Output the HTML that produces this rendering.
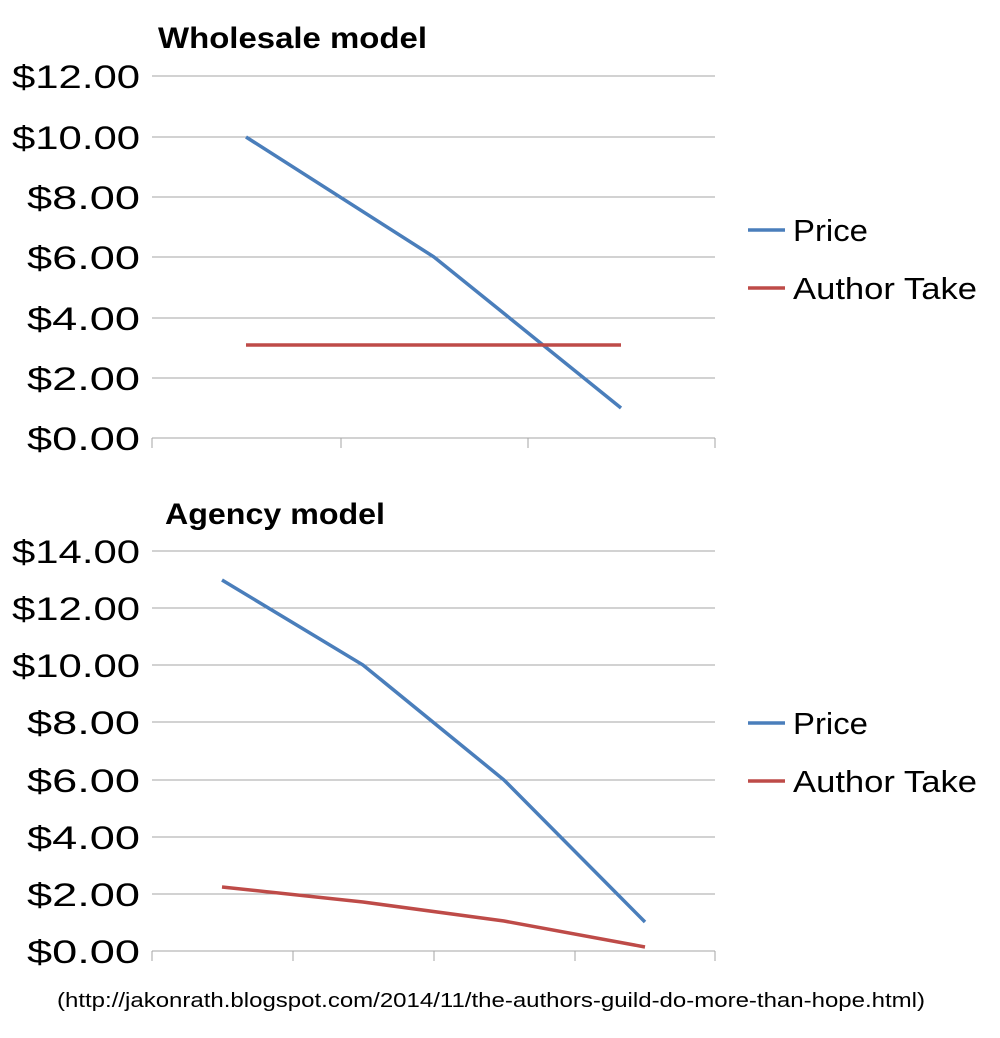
<!DOCTYPE html>
<html><head><meta charset="utf-8"><style>
body{margin:0;background:#fff;}
svg text{font-family:"Liberation Sans",Arial,sans-serif;}
</style></head><body>
<svg width="1000" height="1033" viewBox="0 0 1000 1033" xmlns="http://www.w3.org/2000/svg">
<rect width="1000" height="1033" fill="#fff"/>
<text x="158" y="48" font-size="30" font-weight="bold" fill="#000" textLength="269" lengthAdjust="spacingAndGlyphs">Wholesale model</text>
<g stroke="#a6a6a6" stroke-width="1">
<line x1="152" y1="76" x2="715" y2="76"/><line x1="152" y1="137" x2="715" y2="137"/>
<line x1="152" y1="197" x2="715" y2="197"/><line x1="152" y1="257" x2="715" y2="257"/>
<line x1="152" y1="318" x2="715" y2="318"/><line x1="152" y1="378" x2="715" y2="378"/>
<line x1="152" y1="438" x2="715" y2="438"/>
<line x1="152" y1="438" x2="152" y2="448"/><line x1="341" y1="438" x2="341" y2="448"/>
<line x1="528" y1="438" x2="528" y2="448"/><line x1="715" y1="438" x2="715" y2="448"/>
</g>
<g font-size="32" fill="#000">
<text x="12" y="88" textLength="128" lengthAdjust="spacingAndGlyphs">$12.00</text>
<text x="12" y="149" textLength="128" lengthAdjust="spacingAndGlyphs">$10.00</text>
<text x="27" y="209" textLength="113" lengthAdjust="spacingAndGlyphs">$8.00</text>
<text x="27" y="269" textLength="113" lengthAdjust="spacingAndGlyphs">$6.00</text>
<text x="27" y="330" textLength="113" lengthAdjust="spacingAndGlyphs">$4.00</text>
<text x="27" y="390" textLength="113" lengthAdjust="spacingAndGlyphs">$2.00</text>
<text x="27" y="450" textLength="113" lengthAdjust="spacingAndGlyphs">$0.00</text>
</g>
<polyline points="246,137 434,257 621,408" fill="none" stroke="#4a7ebb" stroke-width="3.5"/>
<line x1="246" y1="345" x2="621" y2="345" stroke="#be4b48" stroke-width="3.5"/>
<line x1="748" y1="230" x2="785" y2="230" stroke="#4a7ebb" stroke-width="3.5"/>
<line x1="748" y1="288" x2="785" y2="288" stroke="#be4b48" stroke-width="3.5"/>
<text x="793" y="241" font-size="31" textLength="75" lengthAdjust="spacingAndGlyphs">Price</text>
<text x="793" y="299" font-size="31" textLength="184" lengthAdjust="spacingAndGlyphs">Author Take</text>

<text x="165" y="524" font-size="30" font-weight="bold" fill="#000" textLength="220" lengthAdjust="spacingAndGlyphs">Agency model</text>
<g stroke="#a6a6a6" stroke-width="1">
<line x1="152" y1="551" x2="715" y2="551"/><line x1="152" y1="608" x2="715" y2="608"/>
<line x1="152" y1="665" x2="715" y2="665"/><line x1="152" y1="722" x2="715" y2="722"/>
<line x1="152" y1="780" x2="715" y2="780"/><line x1="152" y1="837" x2="715" y2="837"/>
<line x1="152" y1="894" x2="715" y2="894"/><line x1="152" y1="951" x2="715" y2="951"/>
<line x1="152" y1="951" x2="152" y2="961"/><line x1="293" y1="951" x2="293" y2="961"/>
<line x1="434" y1="951" x2="434" y2="961"/><line x1="575" y1="951" x2="575" y2="961"/>
<line x1="715" y1="951" x2="715" y2="961"/>
</g>
<g font-size="32" fill="#000">
<text x="12" y="563" textLength="128" lengthAdjust="spacingAndGlyphs">$14.00</text>
<text x="12" y="620" textLength="128" lengthAdjust="spacingAndGlyphs">$12.00</text>
<text x="12" y="677" textLength="128" lengthAdjust="spacingAndGlyphs">$10.00</text>
<text x="27" y="734" textLength="113" lengthAdjust="spacingAndGlyphs">$8.00</text>
<text x="27" y="792" textLength="113" lengthAdjust="spacingAndGlyphs">$6.00</text>
<text x="27" y="849" textLength="113" lengthAdjust="spacingAndGlyphs">$4.00</text>
<text x="27" y="906" textLength="113" lengthAdjust="spacingAndGlyphs">$2.00</text>
<text x="27" y="963" textLength="113" lengthAdjust="spacingAndGlyphs">$0.00</text>
</g>
<polyline points="222,580 363,665 504,780 645,922" fill="none" stroke="#4a7ebb" stroke-width="3.5"/>
<polyline points="222,887 363,902 504,921 645,947" fill="none" stroke="#be4b48" stroke-width="3.5"/>
<line x1="748" y1="723" x2="785" y2="723" stroke="#4a7ebb" stroke-width="3.5"/>
<line x1="748" y1="781" x2="785" y2="781" stroke="#be4b48" stroke-width="3.5"/>
<text x="793" y="734" font-size="31" textLength="75" lengthAdjust="spacingAndGlyphs">Price</text>
<text x="793" y="792" font-size="31" textLength="184" lengthAdjust="spacingAndGlyphs">Author Take</text>

<text x="57" y="1007" font-size="20" textLength="868" lengthAdjust="spacingAndGlyphs">(http://jakonrath.blogspot.com/2014/11/the-authors-guild-do-more-than-hope.html)</text>
</svg>
</body></html>
